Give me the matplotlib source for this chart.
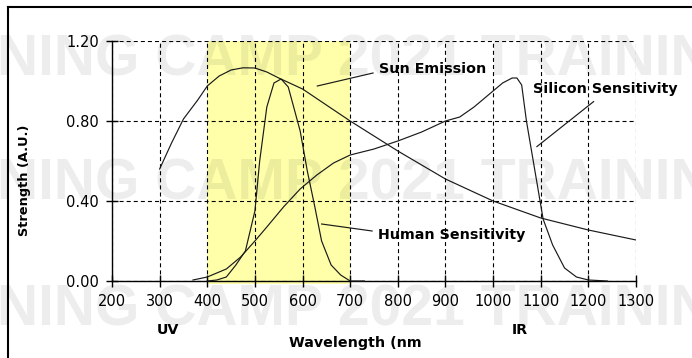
import matplotlib
matplotlib.use("Agg")
import matplotlib.pyplot as plt
from matplotlib.lines import Line2D

# ---------------- data ----------------
sun_nm = [300, 325, 350, 380, 400, 425, 450, 475, 500, 525, 550, 600, 650, 700, 800, 900, 1000, 1100, 1200, 1300]
sun_val = [0.56, 0.69, 0.81, 0.905, 0.975, 1.025, 1.055, 1.066, 1.065, 1.045, 1.015, 0.96, 0.88, 0.80, 0.65, 0.51, 0.40, 0.315, 0.255, 0.205]

human_nm = [400, 420, 440, 460, 480, 500, 510, 525, 540, 555, 570, 595, 610, 625, 640, 660, 680, 700, 730]
human_val = [0.0, 0.005, 0.02, 0.08, 0.15, 0.35, 0.60, 0.87, 0.99, 1.01, 0.97, 0.75, 0.55, 0.38, 0.20, 0.08, 0.03, 0.0, 0.0]

si_nm = [370, 400, 440, 470, 500, 525, 560, 595, 630, 665, 700, 750, 800, 850, 900, 930, 960, 990,
         1020, 1040, 1050, 1060, 1070, 1090, 1105, 1125, 1150, 1175, 1200, 1240]
si_val = [0.005, 0.02, 0.06, 0.12, 0.20, 0.27, 0.37, 0.46, 0.53, 0.59, 0.63, 0.66, 0.70, 0.745, 0.80, 0.82, 0.87, 0.93,
          0.99, 1.015, 1.015, 0.98, 0.80, 0.52, 0.31, 0.18, 0.065, 0.02, 0.005, 0.0]

visible_band = [400, 700]
x_ticks = [200, 300, 400, 500, 600, 700, 800, 900, 1000, 1100, 1200, 1300]
y_ticks = [0.0, 0.4, 0.8, 1.2]
y_tick_labels = ["0.00", "0.40", "0.80", "1.20"]

labels = ["Sun Emission", "Silicon Sensitivity", "Human Sensitivity"]
label_xy = [(761, 1.06), (1084, 0.96), (759, 0.23)]
leader_from = [(631, 0.975), (1092, 0.672), (640, 0.285)]
leader_to = [(748, 1.04), (1211, 0.897), (746, 0.25)]

# ---------------- figure ----------------
plt.rcParams['lines.scale_dashes'] = False
W, H = 692, 358
fig = plt.figure(figsize=(W / 100, H / 100), dpi=100)
ax = fig.add_axes([112 / W, 1 - 281 / H, 524 / W, 240 / H])

ax.set_xlim(200, 1300)
ax.set_ylim(0, 1.2)

ax.fill_between(visible_band, [-0.015, -0.015], [1.2, 1.2], color='#ffffaa', lw=0, zorder=0, clip_on=False)

ax.grid(True, linestyle=(0, (2.9, 2.2)), color='k', linewidth=0.8)
ax.set_axisbelow(True)
for s in ['top', 'right']:
    ax.spines[s].set_visible(False)
for s in ['left', 'bottom']:
    ax.spines[s].set_linewidth(1.0)

lc = '#1a1a1a'
ax.plot(sun_nm, sun_val, color=lc, lw=0.85, zorder=3)
ax.plot(human_nm, human_val, color=lc, lw=0.85, zorder=3, clip_on=False)
ax.plot(si_nm, si_val, color=lc, lw=0.85, zorder=3, clip_on=False)

for txt, (tx, ty), p0, p1 in zip(labels, label_xy, leader_from, leader_to):
    ax.plot([p0[0], p1[0]], [p0[1], p1[1]], color=lc, lw=0.85, zorder=3)
    ax.text(tx, ty, txt, fontsize=10.3, fontweight='bold', ha='left', va='center', zorder=4)

ax.set_xticks(x_ticks)
ax.set_xticklabels([str(v) for v in x_ticks])
ax.set_yticks(y_ticks)
ax.set_yticklabels(y_tick_labels)
ax.tick_params(direction='inout', length=9, width=1, labelsize=10.5, pad=5)

ax.set_ylabel("Strength (A.U.)", fontsize=9.3, fontweight='bold')
ax.yaxis.set_label_coords(-(112 - 31) / 524, (281 - 180) / 240)

fig.text(355 / W, 1 - 343 / H, "Wavelength (nm", fontsize=10.3, fontweight='bold', ha='center', va='center')
fig.text(168 / W, 1 - 330 / H, "UV", fontsize=10.3, fontweight='bold', ha='center', va='center')
fig.text(520 / W, 1 - 330 / H, "IR", fontsize=10.3, fontweight='bold', ha='center', va='center')

# frame
fig.add_artist(Line2D([8 / W, 8 / W], [0, 1 - 7 / H], color='k', lw=1.5, transform=fig.transFigure))
fig.add_artist(Line2D([8 / W, 1], [1 - 7 / H, 1 - 7 / H], color='k', lw=1.5, transform=fig.transFigure))

# watermark
for base in [75, 200, 325]:
    fig.text(-3 / W, 1 - base / H, "NING CAMP 2021 TRAINING", fontsize=41, fontweight='bold',
             family='Liberation Sans', color='k', alpha=0.07,
             ha='left', va='baseline', zorder=10)

fig.savefig("out.png", dpi=100)
